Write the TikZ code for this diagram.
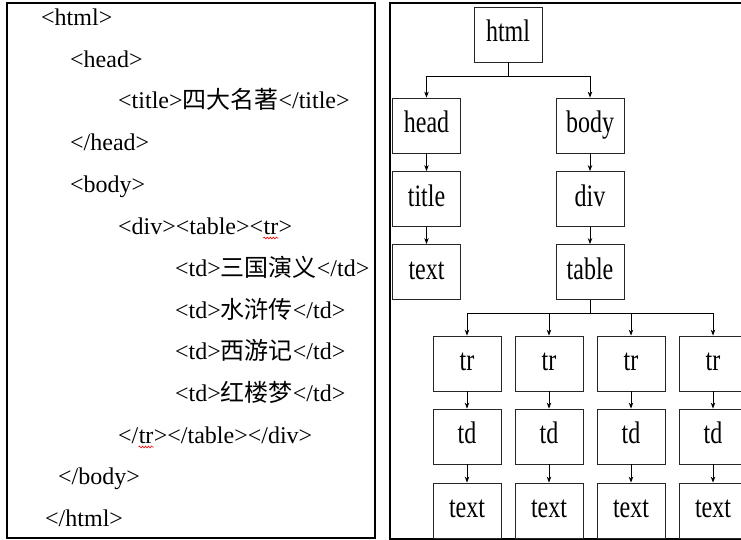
\documentclass[tikz,border=0pt]{standalone}
\usepackage{graphicx}
\usepackage{fontspec}
\setmainfont{Liberation Serif}
\newfontfamily\cjk{Noto Sans CJK SC}
\usetikzlibrary{arrows.meta,decorations.pathmorphing}
\newcommand\boxtxt[1]{\scalebox{1}[1.3]{\vphantom{hy}#1}}
\tikzset{
  code/.style={anchor=base west, inner sep=0pt, font=\fontsize{24}{24}\selectfont},
  tbox/.style={draw=black!85, line width=0.8pt, minimum width=68pt, minimum height=55pt, inner sep=0pt, font=\fontsize{24}{24}\selectfont},
  arr/.style={-{Stealth[length=6pt,width=4.5pt]}, line width=0.8pt},
  conn/.style={line width=0.8pt},
  squig/.style={red, line width=0.6pt, decorate, decoration={snake, segment length=3pt, amplitude=0.9pt}},
  frame/.style={line width=2pt}
}
\begin{document}
\begin{tikzpicture}[x=1pt,y=-1pt]
\useasboundingbox (0,0) rectangle (741,540);
\clip (0,0) rectangle (741,540);
% left panel
\draw[frame] (7,3.5) rectangle (375,538);
\node[code] (l1) at (41,26) {<html>};
\node[code] (l2) at (70,67.5) {<head>};
\node[code] (l3) at (118,109) {<title>{\cjk 四大名著}</title>};
\node[code] (l4) at (70,151) {</head>};
\node[code] (l5) at (70,193) {<body>};
\node[code] (l6a) at (118,234) {<div><table><};
\node[code] (tr1) at (l6a.base east) {tr};
\node[code] (l6b) at (tr1.base east) {>};
\node[code] (l7) at (175,276) {<td>{\cjk 三国演义}</td>};
\node[code] (l8) at (175,318) {<td>{\cjk 水浒传}</td>};
\node[code] (l9) at (175,359) {<td>{\cjk 西游记}</td>};
\node[code] (l10) at (175,401) {<td>{\cjk 红楼梦}</td>};
\node[code] (l11a) at (118,443) {</};
\node[code] (tr2) at (l11a.base east) {tr};
\node[code] (l11b) at (tr2.base east) {></table></div>};
\node[code] (l12) at (58,484.5) {</body>};
\node[code] (l13) at (45,526) {</html>};
\draw[squig] ([yshift=-4pt]tr1.base west) -- ([yshift=-4pt]tr1.base east);
\draw[squig] ([yshift=-4pt]tr2.base west) -- ([yshift=-4pt]tr2.base east);
% right panel
\draw[frame] (760,3) -- (390,3) -- (390,539) -- (760,539);
\node[tbox] (html) at (508,34.5) {\boxtxt{html}};
\node[tbox] (head) at (426.5,125.5) {\boxtxt{head}};
\node[tbox] (body) at (590,125.5) {\boxtxt{body}};
\node[tbox] (title) at (426.5,199) {\boxtxt{title}};
\node[tbox] (div) at (590,199) {\boxtxt{div}};
\node[tbox] (text0) at (426.5,272) {\boxtxt{text}};
\node[tbox] (table) at (590,272) {\boxtxt{table}};
\foreach \i/\x in {1/467,2/549,3/631,4/713}{
  \node[tbox] (tr-\i) at (\x,363.5) {\boxtxt{tr}};
  \node[tbox] (td-\i) at (\x,436.5) {\boxtxt{td}};
  \node[tbox] (tx-\i) at (\x,510.5) {\boxtxt{text}};
  \draw[arr] (tr-\i) -- (td-\i);
  \draw[arr] (td-\i) -- (tx-\i);
}
\coordinate (j1) at (508,76);
\draw[conn] (html.south) -- (j1);
\draw[arr] (j1) -| (head.north);
\draw[arr] (j1) -| (body.north);
\draw[arr] (head) -- (title);
\draw[arr] (title) -- (text0);
\draw[arr] (body) -- (div);
\draw[arr] (div) -- (table);
\coordinate (j2) at (590,313);
\draw[conn] (table.south) -- (j2);
\foreach \i in {1,2,3,4}{
  \draw[arr] (j2) -| (tr-\i.north);
}
\end{tikzpicture}
\end{document}
